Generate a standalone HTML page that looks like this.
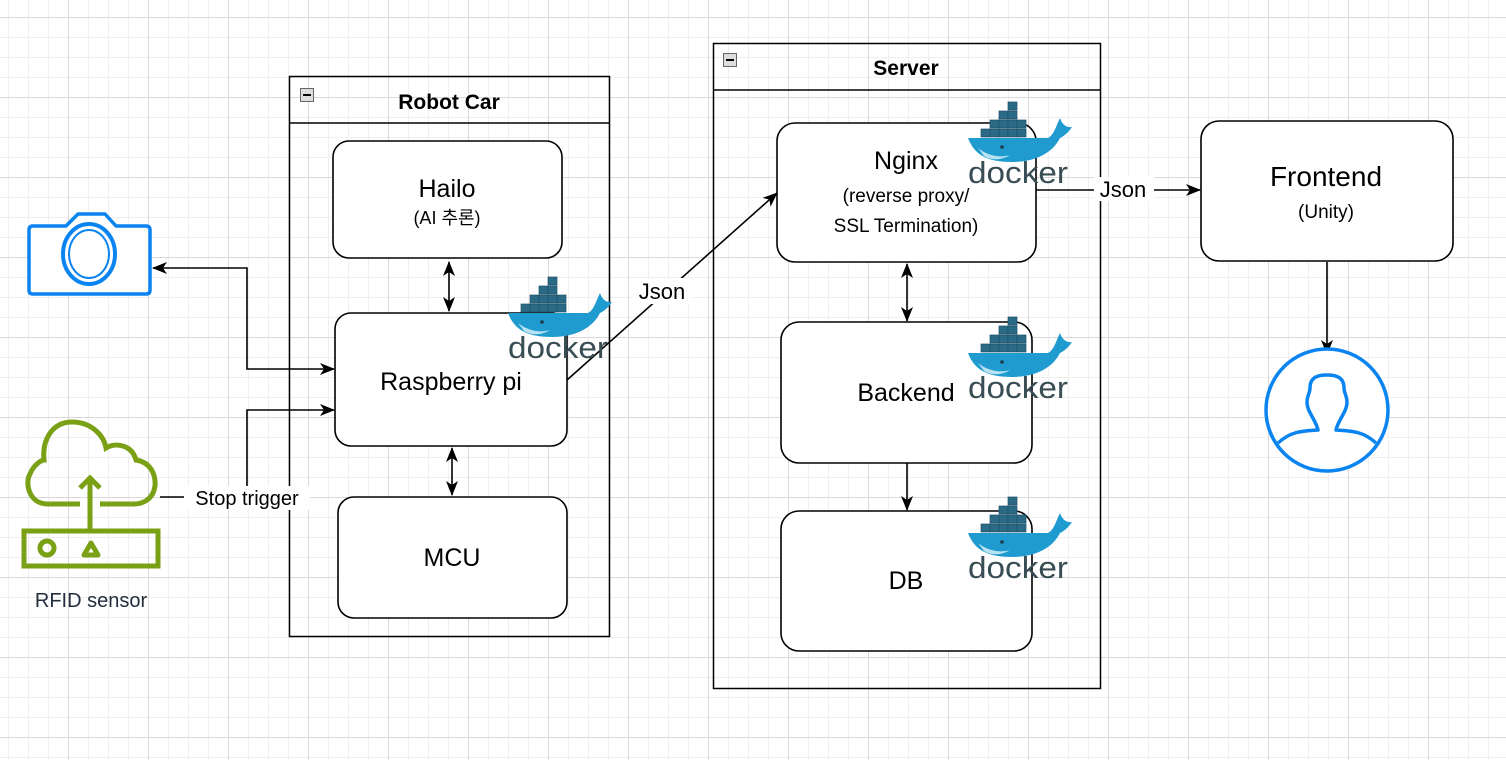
<!DOCTYPE html>
<html><head><meta charset="utf-8"><style>
html,body{margin:0;padding:0;}
body{width:1506px;height:760px;overflow:hidden;background:#fff;
background-image:
linear-gradient(to right,#d9d9d9 1px,transparent 1px),
linear-gradient(to bottom,#d9d9d9 1px,transparent 1px),
linear-gradient(to right,#efefef 1px,transparent 1px),
linear-gradient(to bottom,#efefef 1px,transparent 1px);
background-size:80px 80px,80px 80px,20px 20px,20px 20px;
background-position:68px 17px,68px 17px,8px 17px,8px 17px;}
svg{position:absolute;left:0;top:0;}
text{font-family:"Liberation Sans","Noto Sans CJK KR",sans-serif;}
</style></head><body>
<svg width="1506" height="760" viewBox="0 0 1506 760">
<defs>
<marker id="a" markerWidth="16" markerHeight="14" refX="14" refY="7" orient="auto-start-reverse" markerUnits="userSpaceOnUse">
<path d="M0,1 L15,7 L0,13 L4,7 Z" fill="#000"/></marker>
<g id="dk">
<g fill="#2b6a85" stroke="#1d5068" stroke-width="0.7">
<rect x="36" y="2" width="9" height="8"/>
<rect x="27" y="11" width="9" height="8"/><rect x="36" y="11" width="9" height="8"/>
<rect x="18" y="20" width="9" height="8"/><rect x="27" y="20" width="9" height="8"/><rect x="36" y="20" width="9" height="8"/><rect x="45" y="20" width="9" height="8"/>
<rect x="9" y="29" width="9" height="8"/><rect x="18" y="29" width="9" height="8"/><rect x="27" y="29" width="9" height="8"/><rect x="36" y="29" width="9" height="8"/><rect x="45" y="29" width="9" height="8"/>
</g>
<path d="M-4,38 L76,38 C82,35 84,26 88,18 C90,24 94,28 100,27 C96,33 92,36 88,38 C80,54 62,62 40,62 C14,62 2,54 -4,38 Z" fill="#1f9bd0"/>
<path d="M6,48 C16,56 28,58 38,55 C30,60 20,61 12,56 Z" fill="#b9e3f2"/>
<circle cx="30" cy="47" r="1.8" fill="#1d3c4a"/>
</g>
</defs>

<rect x="289.5" y="76.5" width="320" height="560" fill="none" stroke="#000" stroke-width="1.5"/>
<line x1="289" y1="123" x2="609" y2="123" stroke="#000" stroke-width="1.5"/>
<rect x="300.5" y="88.5" width="13" height="13" fill="#ddd" stroke="#666"/><line x1="303" y1="95" x2="311" y2="95" stroke="#000" stroke-width="2"/>
<text x="449" y="109" font-size="21" font-weight="bold" text-anchor="middle">Robot Car</text>

<rect x="713.5" y="43.5" width="387" height="645" fill="none" stroke="#000" stroke-width="1.5"/>
<line x1="713" y1="90" x2="1101" y2="90" stroke="#000" stroke-width="1.5"/>
<rect x="723.5" y="53.5" width="13" height="13" fill="#ddd" stroke="#666"/><line x1="726" y1="60" x2="734" y2="60" stroke="#000" stroke-width="2"/>
<text x="906" y="75" font-size="21" font-weight="bold" text-anchor="middle">Server</text>

<g fill="#fff" stroke="#000" stroke-width="1.6">
<rect x="333" y="141" width="229" height="117" rx="16"/>
<rect x="335" y="313" width="232" height="133" rx="16"/>
<rect x="338" y="497" width="229" height="121" rx="16"/>
<rect x="777" y="123" width="259" height="139" rx="18"/>
<rect x="781" y="322" width="251" height="141" rx="18"/>
<rect x="781" y="511" width="251" height="140" rx="18"/>
<rect x="1201" y="121" width="252" height="140" rx="18"/>
</g>

<text x="447" y="197" font-size="25" text-anchor="middle">Hailo</text>
<text x="447" y="224" font-size="18" text-anchor="middle">(AI 추론)</text>
<text x="451" y="390" font-size="25" text-anchor="middle">Raspberry pi</text>
<text x="452" y="566" font-size="25" text-anchor="middle">MCU</text>
<text x="906" y="169" font-size="25" text-anchor="middle">Nginx</text>
<text x="906" y="202" font-size="19" text-anchor="middle">(reverse proxy/</text>
<text x="906" y="232" font-size="19" text-anchor="middle">SSL Termination)</text>
<text x="906" y="401" font-size="25" text-anchor="middle">Backend</text>
<text x="906" y="589" font-size="25" text-anchor="middle">DB</text>
<text x="1326" y="186" font-size="28" text-anchor="middle">Frontend</text>
<text x="1326" y="218" font-size="19" text-anchor="middle">(Unity)</text>

<g stroke="#000" stroke-width="1.6" fill="none">
<line x1="449" y1="262" x2="449" y2="311" marker-start="url(#a)" marker-end="url(#a)"/>
<line x1="452" y1="448" x2="452" y2="495" marker-start="url(#a)" marker-end="url(#a)"/>
<polyline points="153,268 247,268 247,369 334,369" marker-start="url(#a)" marker-end="url(#a)"/>
<polyline points="160,497 247,497 247,410 334,410" marker-end="url(#a)"/>
<line x1="567" y1="380" x2="777" y2="193" marker-end="url(#a)"/>
<line x1="907" y1="264" x2="907" y2="321" marker-start="url(#a)" marker-end="url(#a)"/>
<line x1="907" y1="463" x2="907" y2="510" marker-end="url(#a)"/>
<line x1="1036" y1="190" x2="1200" y2="190" marker-end="url(#a)"/>
<line x1="1327" y1="262" x2="1327" y2="354" marker-end="url(#a)"/>
</g>
<rect x="184" y="486" width="126" height="24" fill="#fff"/>
<text x="247" y="505" font-size="20" text-anchor="middle">Stop trigger</text>
<rect x="632" y="278" width="60" height="26" fill="#fff"/>
<text x="662" y="299" font-size="22" text-anchor="middle">Json</text>
<rect x="1094" y="177" width="60" height="24" fill="#fff"/>
<text x="1123" y="197" font-size="22" text-anchor="middle">Json</text>

<g transform="translate(512,275)"><use href="#dk"/><text x="-4" y="83" font-size="31" fill="#394d54" textLength="100" lengthAdjust="spacingAndGlyphs">docker</text></g>
<g transform="translate(972,100)"><use href="#dk"/><text x="-4" y="83" font-size="31" fill="#394d54" textLength="100" lengthAdjust="spacingAndGlyphs">docker</text></g>
<g transform="translate(972,315)"><use href="#dk"/><text x="-4" y="83" font-size="31" fill="#394d54" textLength="100" lengthAdjust="spacingAndGlyphs">docker</text></g>
<g transform="translate(972,495)"><use href="#dk"/><text x="-4" y="83" font-size="31" fill="#394d54" textLength="100" lengthAdjust="spacingAndGlyphs">docker</text></g>

<path d="M32,226 H66 L78,214 H105 L116,226 H146 Q150,226 150,230 V290 Q150,294 146,294 H33 Q29,294 29,290 V230 Q29,226 33,226 Z" fill="#fff" stroke="#0a84f0" stroke-width="3.5" stroke-linejoin="round"/>
<ellipse cx="89" cy="254" rx="26" ry="30" fill="none" stroke="#0a84f0" stroke-width="4"/>
<ellipse cx="89" cy="254" rx="20" ry="24" fill="none" stroke="#0a84f0" stroke-width="2"/>

<g stroke="#7aa116" stroke-width="5" fill="none" stroke-linecap="butt">
<path d="M80,504 H48 C28,504 25,482 30,474 C34,464 42,460 44,460 C42,440 52,422 72,422 C92,422 104,436 106,448 C116,442 132,445 136,460 C150,462 156,474 155,486 C153,500 142,504 134,504 H100"/>
<line x1="90" y1="478" x2="90" y2="530"/>
<polyline points="80,488 90,478 100,488"/>
<rect x="24" y="531" width="134" height="35"/>
<circle cx="47" cy="548" r="7"/>
<path d="M84,555 L91,543 L98,555 Z" stroke-linejoin="round"/>
</g>
<text x="91" y="607" font-size="20" fill="#232f3e" text-anchor="middle">RFID sensor</text>

<circle cx="1327" cy="410" r="61" fill="#fff" stroke="#0a84f0" stroke-width="3.5"/>
<path d="M1278,443 C1290,432 1300,431 1318,430 C1316,420 1307,412 1307,402 C1307,395 1310,394 1310,388 C1310,377 1318,375 1327,375 C1336,375 1344,377 1344,388 C1344,394 1347,395 1347,402 C1347,412 1338,420 1336,430 C1354,431 1364,432 1376,443" fill="none" stroke="#0a84f0" stroke-width="3.5" stroke-linejoin="round"/>
</svg>
</body></html>
